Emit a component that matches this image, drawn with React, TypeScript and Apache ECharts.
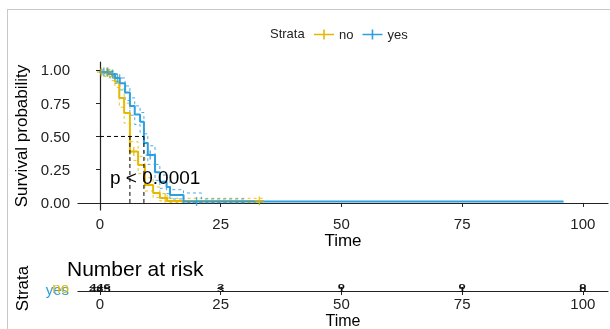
import React, { useEffect, useRef } from "react";
import * as echarts from "echarts";

// Kaplan–Meier estimates by stratum: [time, survival]
const timeNo = [0, 1.0, 2.5, 3.1, 4.0, 5.0, 6.2, 7.9, 9.3, 11.0, 12.4, 13.9, 34];
const survNo = [0.985, 0.975, 0.955, 0.912, 0.79, 0.677, 0.386, 0.286, 0.135, 0.075, 0.038, 0.015, 0.015];
const upperNo = [1.0, 1.0, 0.99, 0.96, 0.86, 0.75, 0.46, 0.35, 0.19, 0.12, 0.07, 0.035, 0.035];
const lowerNo = [0.97, 0.95, 0.92, 0.87, 0.72, 0.6, 0.32, 0.22, 0.09, 0.04, 0.015, 0.003, 0.003];

const timeYes = [0, 2.0, 3.1, 4.1, 5.2, 6.2, 7.2, 8.3, 9.1, 9.9, 11.4, 12.4, 13.8, 14.5, 17.3, 21, 96];
const survYes = [0.985, 0.97, 0.94, 0.9, 0.83, 0.73, 0.665, 0.61, 0.45, 0.36, 0.23, 0.16, 0.12, 0.06, 0.01, 0.01, 0.01];
const upperYes = [1.0, 0.99, 0.97, 0.94, 0.88, 0.79, 0.73, 0.68, 0.52, 0.43, 0.29, 0.21, 0.17, 0.1, 0.075, 0.03, 0.03];
const lowerYes = [0.97, 0.94, 0.9, 0.85, 0.77, 0.66, 0.59, 0.53, 0.38, 0.29, 0.17, 0.11, 0.07, 0.03, 0.002, 0.002, 0.002];
const ciEndYes = 30;

// censored observations
const censorNo: [number, number][] = [[0.3, 0.985], [1.4, 0.985], [2.0, 0.975], [7.0, 0.386], [13.5, 0.038], [33, 0.015]];
const censorYes: [number, number][] = [[0.8, 0.985], [1.6, 0.985], [2.6, 0.97], [3.6, 0.94], [10.4, 0.36], [20, 0.01]];

// median survival times
const medianNo = 6.2;
const medianYes = 9.1;

// number at risk table
const riskTimes = [0, 25, 50, 75, 100];
const riskNo = [446, 2, 0, 0, 0];
const riskYes = [465, 3, 1, 1, 0];

const strata = ["no", "yes"];
const strataColors = ["#E7B800", "#2E9FDF"];
const timeTicks = [0, 25, 50, 75, 100];
const survTicks = [0, 0.25, 0.5, 0.75, 1];
const pValueText = "p < 0.0001";

const FONT = "Liberation Sans, Arial, Helvetica, sans-serif";
const CROSS = "path://M0,4.2h20v1.6h-20z M9.2,0h1.6v10h-1.6z";
const PLUS = "path://M0,4.2h10v1.6h-10z M4.2,0h1.6v10h-1.6z";

const zip = (t: number[], s: number[]) => t.map((v, i) => [v, s[i]]);
const upTo = (t: number[], s: number[], end: number) => {
  const pts = zip(t, s).filter((p) => p[0] <= end);
  if (pts[pts.length - 1][0] < end) pts.push([end, pts[pts.length - 1][1]]);
  return pts;
};

export default function App() {
  const ref = useRef<HTMLDivElement>(null);

  useEffect(() => {
    if (!ref.current) return;
    const chart = echarts.init(ref.current, null, { renderer: "svg" });

    const axisLine = { show: true, lineStyle: { color: "#222", width: 1.2 } };
    const xRange = { min: -4.55, max: 105.2 };

    const kmLine = (name: string, data: number[][], color: string) => ({
      name,
      type: "line",
      step: "end",
      data,
      xAxisIndex: 0,
      yAxisIndex: 0,
      showSymbol: false,
      lineStyle: { color, width: 2 },
      itemStyle: { color },
      z: 3,
    });
    const ciLine = (name: string, data: number[][], color: string) => ({
      name,
      type: "line",
      step: "end",
      data,
      xAxisIndex: 0,
      yAxisIndex: 0,
      showSymbol: false,
      lineStyle: { color, width: 1, type: [3, 3], opacity: 0.85 },
      itemStyle: { color },
      z: 2,
    });
    const censor = (name: string, data: [number, number][], color: string) => ({
      name,
      type: "scatter",
      data,
      xAxisIndex: 0,
      yAxisIndex: 0,
      symbol: PLUS,
      symbolSize: 9,
      itemStyle: { color },
      z: 4,
    });
    const refLine = (data: number[][]) => ({
      type: "line",
      data,
      xAxisIndex: 0,
      yAxisIndex: 0,
      showSymbol: false,
      lineStyle: { color: "#000", width: 1, type: [4, 3] },
      z: 5,
      silent: true,
    });

    const riskData: any[] = [];
    riskTimes.forEach((t, i) => {
      riskData.push([t, "no", riskNo[i]]);
      riskData.push([t, "yes", riskYes[i]]);
    });

    chart.setOption({
      animation: false,
      textStyle: { fontFamily: FONT },
      title: {
        text: "Number at risk",
        left: 67,
        top: 258,
        padding: 0,
        textStyle: { fontSize: 21, fontWeight: "normal", color: "#000", fontFamily: FONT },
      },
      legend: {
        data: strata.map((s) => ({ name: s, icon: CROSS })),
        left: 314,
        top: 28,
        itemWidth: 20,
        itemHeight: 10,
        itemGap: 9,
        padding: 0,
        textStyle: { fontSize: 13, color: "#222", fontFamily: FONT },
      },
      graphic: [
        { type: "line", shape: { x1: 7, y1: 9.5, x2: 610, y2: 9.5 }, style: { stroke: "#c8c8c8", lineWidth: 1 } },
        { type: "line", shape: { x1: 7.5, y1: 9, x2: 7.5, y2: 329 }, style: { stroke: "#c8c8c8", lineWidth: 1 } },
        {
          type: "text",
          left: 270,
          top: 27,
          style: { text: "Strata", fontSize: 13, fill: "#222", fontFamily: FONT },
        },
        {
          type: "text",
          left: 110,
          top: 168,
          z: 10,
          style: { text: pValueText, fontSize: 19, fill: "#000", fontFamily: FONT },
        },
      ],
      grid: [
        { left: 78, right: 2, top: 62, height: 148, outerBoundsMode: "none" },
        { left: 78, right: 2, top: 286, height: 5, outerBoundsMode: "none" },
      ],
      xAxis: [
        {
          type: "value",
          gridIndex: 0,
          ...xRange,
          name: "Time",
          nameLocation: "middle",
          nameGap: 21,
          nameTextStyle: { fontSize: 17, color: "#000", verticalAlign: "top" },
          axisLine,
          axisTick: { show: true, customValues: timeTicks, length: 4, lineStyle: { color: "#222" } },
          axisLabel: { customValues: timeTicks, fontSize: 15, color: "#222", margin: 6 },
          splitLine: { show: false },
        },
        {
          type: "value",
          gridIndex: 1,
          ...xRange,
          name: "Time",
          nameLocation: "middle",
          nameGap: 21,
          nameTextStyle: { fontSize: 16, color: "#000", verticalAlign: "top" },
          axisLine,
          axisTick: { show: true, customValues: timeTicks, length: 4, lineStyle: { color: "#222" } },
          axisLabel: { customValues: timeTicks, fontSize: 15, color: "#222", margin: 5 },
          splitLine: { show: false },
        },
      ],
      yAxis: [
        {
          type: "value",
          gridIndex: 0,
          min: -0.053,
          max: 1.06,
          name: "Survival probability",
          nameLocation: "middle",
          nameRotate: 90,
          nameGap: 47,
          nameTextStyle: { fontSize: 17, color: "#000" },
          axisLine,
          axisTick: { show: true, customValues: survTicks, length: 4, lineStyle: { color: "#222" } },
          axisLabel: {
            customValues: survTicks,
            fontSize: 15,
            color: "#222",
            margin: 8,
            formatter: (v: number) => v.toFixed(2),
          },
          splitLine: { show: false },
        },
        {
          type: "category",
          gridIndex: 1,
          data: ["yes", "no"],
          name: "Strata",
          nameLocation: "middle",
          nameRotate: 90,
          nameGap: 47,
          nameTextStyle: { fontSize: 17, color: "#000" },
          axisLine,
          axisTick: { show: true, alignWithLabel: true, interval: 0, length: 3, lineStyle: { color: "#222" } },
          axisLabel: {
            interval: 0,
            hideOverlap: false,
            fontSize: 15,
            margin: 9,
            color: (v: string) => strataColors[strata.indexOf(v)],
          },
          splitLine: { show: false },
        },
      ],
      series: [
        ciLine("no", upTo(timeNo, upperNo, timeNo[timeNo.length - 1]), strataColors[0]),
        ciLine("no", upTo(timeNo, lowerNo, timeNo[timeNo.length - 1]), strataColors[0]),
        ciLine("yes", upTo(timeYes, upperYes, ciEndYes), strataColors[1]),
        ciLine("yes", upTo(timeYes, lowerYes, ciEndYes), strataColors[1]),
        kmLine("no", zip(timeNo, survNo), strataColors[0]),
        kmLine("yes", zip(timeYes, survYes), strataColors[1]),
        censor("no", censorNo, strataColors[0]),
        censor("yes", censorYes, strataColors[1]),
        refLine([[0, 0.5], [medianYes, 0.5]]),
        refLine([[medianNo, 0], [medianNo, 0.5]]),
        refLine([[medianYes, 0], [medianYes, 0.5]]),
        {
          type: "custom",
          xAxisIndex: 1,
          yAxisIndex: 1,
          data: riskData,
          renderItem: (params: any, api: any) => {
            const p = api.coord([api.value(0), api.value(1)]);
            return {
              type: "text",
              x: p[0],
              y: p[1],
              scaleY: 0.5,
              style: {
                text: String(api.value(2)),
                fontSize: 13,
                fontWeight: "bold",
                fontFamily: FONT,
                fill: "#111",
                align: "center",
                verticalAlign: "middle",
              },
            };
          },
          z: 5,
        },
      ],
    });

    return () => chart.dispose();
  }, []);

  return (
    <div
      ref={ref}
      style={{ position: "fixed", left: 0, top: 0, width: 610, height: 329 }}
    />
  );
}
